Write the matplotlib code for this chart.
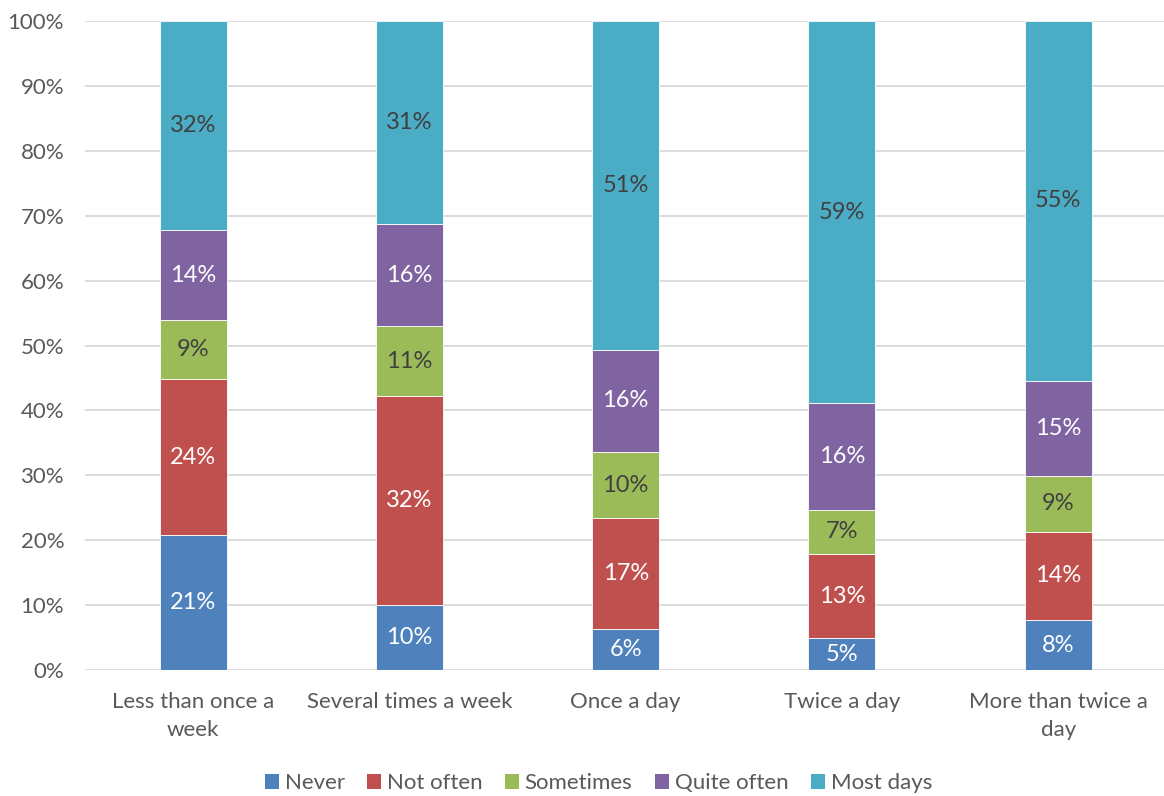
import matplotlib.pyplot as plt
import numpy as np
from matplotlib.patches import Patch

plt.rcParams["font.family"] = ["Lato", "DejaVu Sans"]

categories = ["Less than once a\nweek", "Several times a week", "Once a day",
              "Twice a day", "More than twice a\nday"]
series_names = ["Never", "Not often", "Sometimes", "Quite often", "Most days"]
never = [20.8, 10.0, 6.3, 4.9, 7.7]
not_often = [24.0, 32.2, 17.1, 13.0, 13.6]
sometimes = [9.1, 10.8, 10.2, 6.8, 8.6]
quite_often = [13.9, 15.7, 15.7, 16.4, 14.7]
most_days = [32.2, 31.3, 50.7, 58.9, 55.4]

colors = ["#4F81BD", "#C0504D", "#9BBB59", "#8064A2", "#4BACC6"]
label_colors = ["white", "white", "#404040", "white", "#404040"]

fig = plt.figure(figsize=(11.64, 7.96), dpi=100)
ax = fig.add_axes([0.073, 0.1583, 0.929, 0.8153])

x = np.arange(len(categories))
bottom = np.zeros(len(categories))
for vals, name, col, lcol in zip([never, not_often, sometimes, quite_often, most_days],
                                 series_names, colors, label_colors):
    vals = np.array(vals)
    ax.bar(x, vals, 0.31, bottom=bottom, color=col, edgecolor="white",
           linewidth=0.6, label=name, zorder=2)
    for xi, b, v in zip(x, bottom, vals):
        ax.text(xi, b + v / 2, f"{v:.0f}%", ha="center", va="center",
                color=lcol, fontsize=17, zorder=3)
    bottom += vals

ax.set_xlim(-0.5, len(categories) - 0.5)
ax.set_ylim(0, 100)
ax.set_yticks(range(0, 101, 10))
ax.set_yticklabels([f"{t}%" for t in range(0, 101, 10)])
ax.set_xticks(x)
ax.set_xticklabels(categories, linespacing=1.5)
ax.tick_params(axis="both", length=0, labelsize=16, colors="#595959")
ax.tick_params(axis="y", pad=15)
ax.tick_params(axis="x", pad=16)
ax.grid(True, axis="y", color="#D9D9D9", linewidth=1.3, zorder=0)
for s in ax.spines.values():
    s.set_visible(False)

handles = [Patch(facecolor=c, label=n) for c, n in zip(colors, series_names)]
leg = fig.legend(handles=handles, loc="center", bbox_to_anchor=(0.514, 0.016),
                 ncol=5, frameon=False, fontsize=16, handlelength=0.65,
                 handleheight=0.65, handletextpad=0.25, columnspacing=1.0)
for t in leg.get_texts():
    t.set_color("#595959")

fig.savefig("out.png", dpi=100)
